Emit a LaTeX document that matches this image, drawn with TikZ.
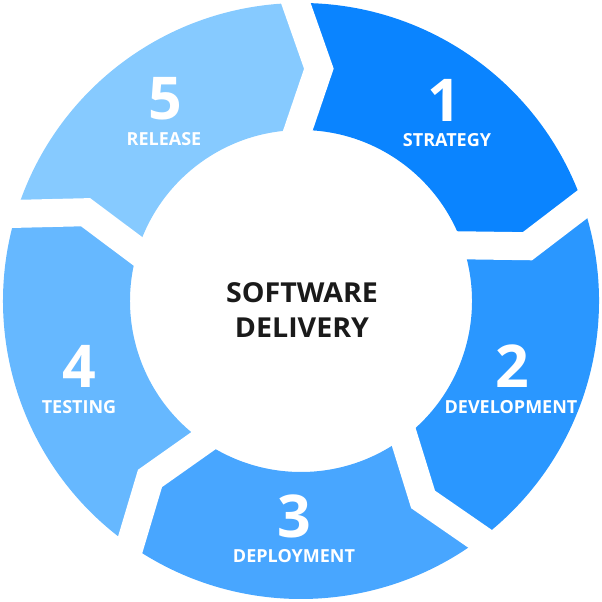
\documentclass[tikz,border=0pt]{standalone}
\usepackage{fontspec}
\setmainfont{Open Sans}
\usetikzlibrary{calc}
\definecolor{segA}{HTML}{0A84FF}
\definecolor{segB}{HTML}{2A97FF}
\definecolor{segC}{HTML}{48A6FF}
\definecolor{segD}{HTML}{66B8FF}
\definecolor{segE}{HTML}{86CAFF}
\definecolor{ink}{HTML}{1A1A1A}
% ring geometry: outer, inner and chevron radii, chevron offset angle
\def\Rout{298}
\def\Rin{171}
\def\Rmid{233}
\def\chev{5.4}
% one ring segment running clockwise from angle #2 to angle #3
\newcommand\ringpart[3]{%
  \fill[#1] ($(C)+(#2:\Rout)$) arc[start angle=#2, end angle=#3, radius=\Rout]
    -- ($(C)+(#3-\chev:\Rmid)$) -- ($(C)+(#3:\Rin)$)
    arc[start angle=#3, end angle=#2, radius=\Rin]
    -- ($(C)+(#2-\chev:\Rmid)$) -- cycle;}
% white chevron-shaped gap at angle #1
\newcommand\ringgap[1]{%
  \coordinate (go) at ($(C)+(#1:\Rout)$);
  \coordinate (gt) at ($(C)+(#1-\chev:\Rmid)$);
  \coordinate (gi) at ($(C)+(#1:\Rin)$);
  \draw[gapline] ($(go)!-0.5!(gt)$) -- (gt) -- ($(gi)!-0.5!(gt)$);}
\tikzset{
  gapline/.style={white, line width=28pt, line join=miter, miter limit=10},
  num/.style={text=white, anchor=base, font=\bfseries\fontsize{59}{59}\selectfont},
  lbl/.style={text=white, anchor=base, font=\bfseries\fontsize{18}{18}\selectfont},
  title/.style={text=ink, anchor=base, xscale=1.04, font=\bfseries\fontsize{27.5}{27.5}\selectfont}
}
\begin{document}
\begin{tikzpicture}[x=1pt,y=1pt]
\useasboundingbox (0,0) rectangle (602,602);
\coordinate (C) at (301,301);
% the five stages
\ringpart{segA}{91}{19}
\ringpart{segB}{19}{-53}
\ringpart{segC}{-53}{-125}
\ringpart{segD}{-125}{-197}
\ringpart{segE}{-197}{-269}
% gaps between stages
\foreach \a in {91,19,-53,-125,-197} {\ringgap{\a}}
% labels
\node[num] (n1) at (444,480) {1};
\node[lbl] (l1) at (447,455) {STRATEGY};
\node[num] (n2) at (512,214) {2};
\node[lbl] (l2) at (511,188) {DEVELOPMENT};
\node[num] (n3) at (294,64) {3};
\node[lbl] (l3) at (294,39) {DEPLOYMENT};
\node[num] (n4) at (79,214) {4};
\node[lbl] (l4) at (79,188) {TESTING};
\node[num] (n5) at (165,482) {5};
\node[lbl] (l5) at (164,456) {RELEASE};
\node[title] (t1) at (302,299) {SOFTWARE};
\node[title] (t2) at (302,264) {DELIVERY};
\end{tikzpicture}
\end{document}
